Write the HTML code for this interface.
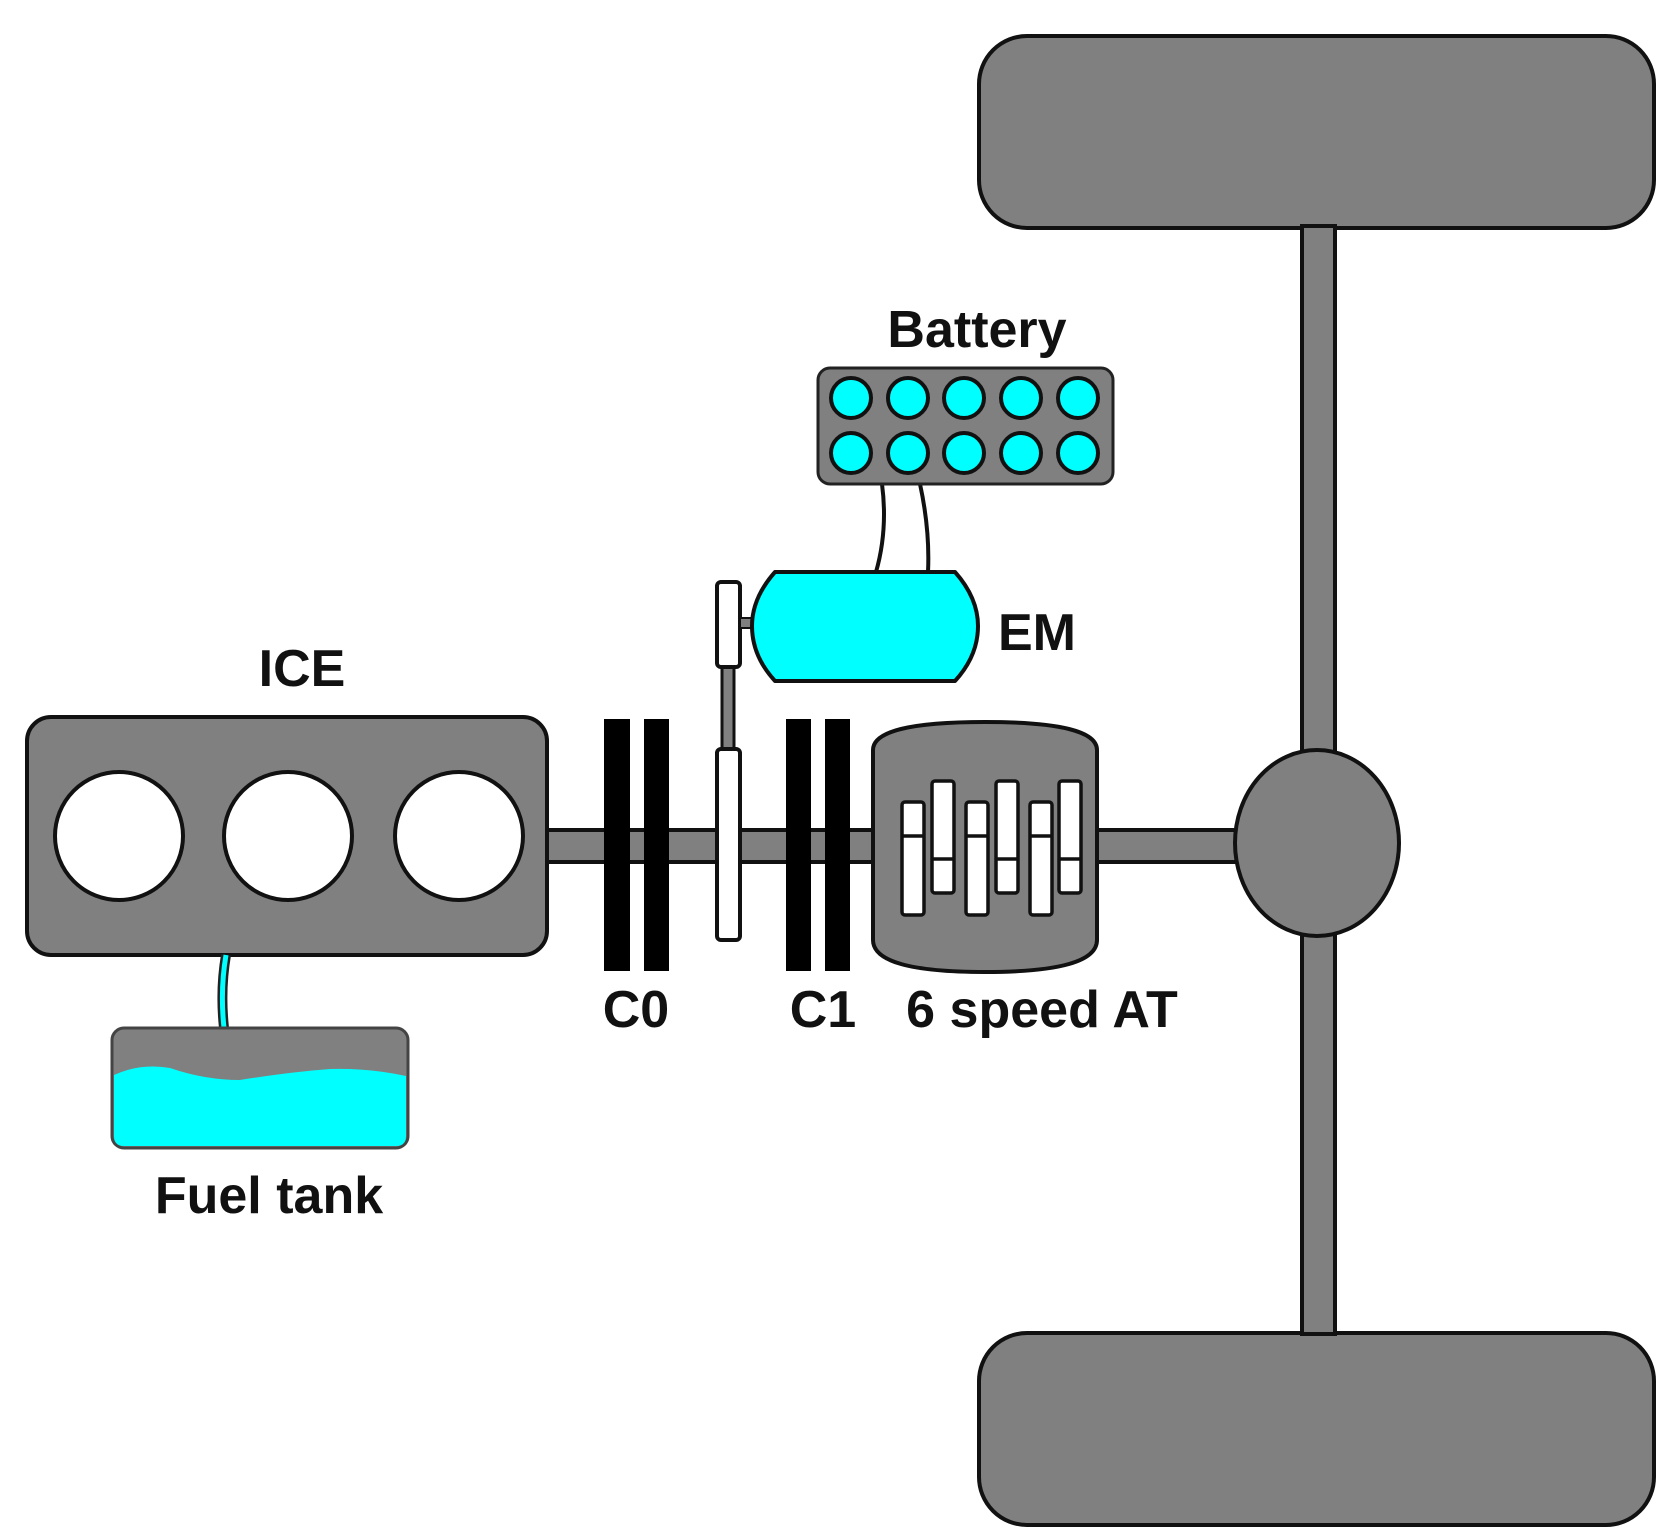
<!DOCTYPE html>
<html><head><meta charset="utf-8"><style>html,body{margin:0;padding:0;background:#fff}svg{display:block}</style></head><body>
<svg width="1662" height="1530" viewBox="0 0 1662 1530" xmlns="http://www.w3.org/2000/svg">
<g stroke="#111" stroke-width="4" fill="#808080">
<rect x="979" y="36" width="675" height="192" rx="48"/>
<rect x="979" y="1333" width="675" height="192" rx="48"/>
<rect x="1302" y="226" width="33" height="1108"/>
<rect x="540" y="830" width="720" height="32"/>
<ellipse cx="1317" cy="843" rx="82" ry="93"/>
<rect x="27" y="717" width="520" height="238" rx="24"/>
</g>
<g stroke="#111" stroke-width="4" fill="#fff">
<circle cx="119" cy="836" r="64"/>
<circle cx="288" cy="836" r="64"/>
<circle cx="459" cy="836" r="64"/>
</g>
<path d="M226 955 Q220 990 224 1028" stroke="#222" stroke-width="10" fill="none"/>
<path d="M226 955 Q220 990 224 1028" stroke="#00ffff" stroke-width="5" fill="none"/>
<rect x="112" y="1028" width="296" height="120" rx="12" fill="#808080" stroke="#444" stroke-width="3"/>
<path d="M114 1075 Q140 1063 170 1068 Q205 1080 240 1080 Q290 1072 330 1069 Q370 1068 406 1076 L406 1136 Q406 1146 396 1146 L124 1146 Q114 1146 114 1136 Z" fill="#00ffff"/>
<g fill="#000">
<rect x="604" y="719" width="26" height="252"/>
<rect x="644" y="719" width="25" height="252"/>
<rect x="786" y="719" width="25" height="252"/>
<rect x="825" y="719" width="25" height="252"/>
</g>
<rect x="722" y="665" width="12" height="86" fill="#808080" stroke="#111" stroke-width="3"/>
<rect x="717" y="582" width="23" height="85" rx="4" fill="#fff" stroke="#111" stroke-width="4"/>
<rect x="717" y="749" width="23" height="191" rx="4" fill="#fff" stroke="#111" stroke-width="4"/>
<rect x="740" y="618" width="16" height="10" fill="#808080" stroke="#111" stroke-width="2"/>
<path d="M882 484 Q888 530 876 572" stroke="#111" stroke-width="4" fill="none"/>
<path d="M920 484 Q930 530 928 572" stroke="#111" stroke-width="4" fill="none"/>
<path d="M775 572 L955 572 Q978 598 978 626 Q978 656 955 681 L775 681 Q752 656 752 626 Q752 598 775 572 Z" fill="#00ffff" stroke="#111" stroke-width="4" stroke-linejoin="round"/>
<rect x="818" y="368" width="295" height="116" rx="12" fill="#808080" stroke="#222" stroke-width="3"/>
<g fill="#00ffff" stroke="#111" stroke-width="4">
<circle cx="851" cy="398" r="20"/><circle cx="908" cy="398" r="20"/><circle cx="964" cy="398" r="20"/><circle cx="1021" cy="398" r="20"/><circle cx="1078" cy="398" r="20"/>
<circle cx="851" cy="453" r="20"/><circle cx="908" cy="453" r="20"/><circle cx="964" cy="453" r="20"/><circle cx="1021" cy="453" r="20"/><circle cx="1078" cy="453" r="20"/>
</g>
<path d="M873 750 Q873 722 985 722 Q1097 722 1097 750 L1097 940 Q1097 972 985 972 Q873 972 873 940 Z" fill="#808080" stroke="#111" stroke-width="4"/>
<g fill="#fff" stroke="#111" stroke-width="3.5">
<rect x="902" y="802" width="22" height="113" rx="3"/><line x1="902" y1="836" x2="924" y2="836"/>
<rect x="932" y="781" width="22" height="112" rx="3"/><line x1="932" y1="859" x2="954" y2="859"/>
<rect x="966" y="802" width="22" height="113" rx="3"/><line x1="966" y1="836" x2="988" y2="836"/>
<rect x="996" y="781" width="22" height="112" rx="3"/><line x1="996" y1="859" x2="1018" y2="859"/>
<rect x="1030" y="802" width="22" height="113" rx="3"/><line x1="1030" y1="836" x2="1052" y2="836"/>
<rect x="1059" y="781" width="22" height="112" rx="3"/><line x1="1059" y1="859" x2="1081" y2="859"/>
</g>
<g font-family="Liberation Sans, sans-serif" font-weight="bold" font-size="52" fill="#111">
<text x="302" y="686" text-anchor="middle">ICE</text>
<text x="269" y="1213" text-anchor="middle">Fuel tank</text>
<text x="977" y="347" text-anchor="middle">Battery</text>
<text x="998" y="650">EM</text>
<text x="636" y="1027" text-anchor="middle">C0</text>
<text x="823" y="1027" text-anchor="middle">C1</text>
<text x="1042" y="1027" text-anchor="middle">6 speed AT</text>
</g>
</svg>
</body></html>
